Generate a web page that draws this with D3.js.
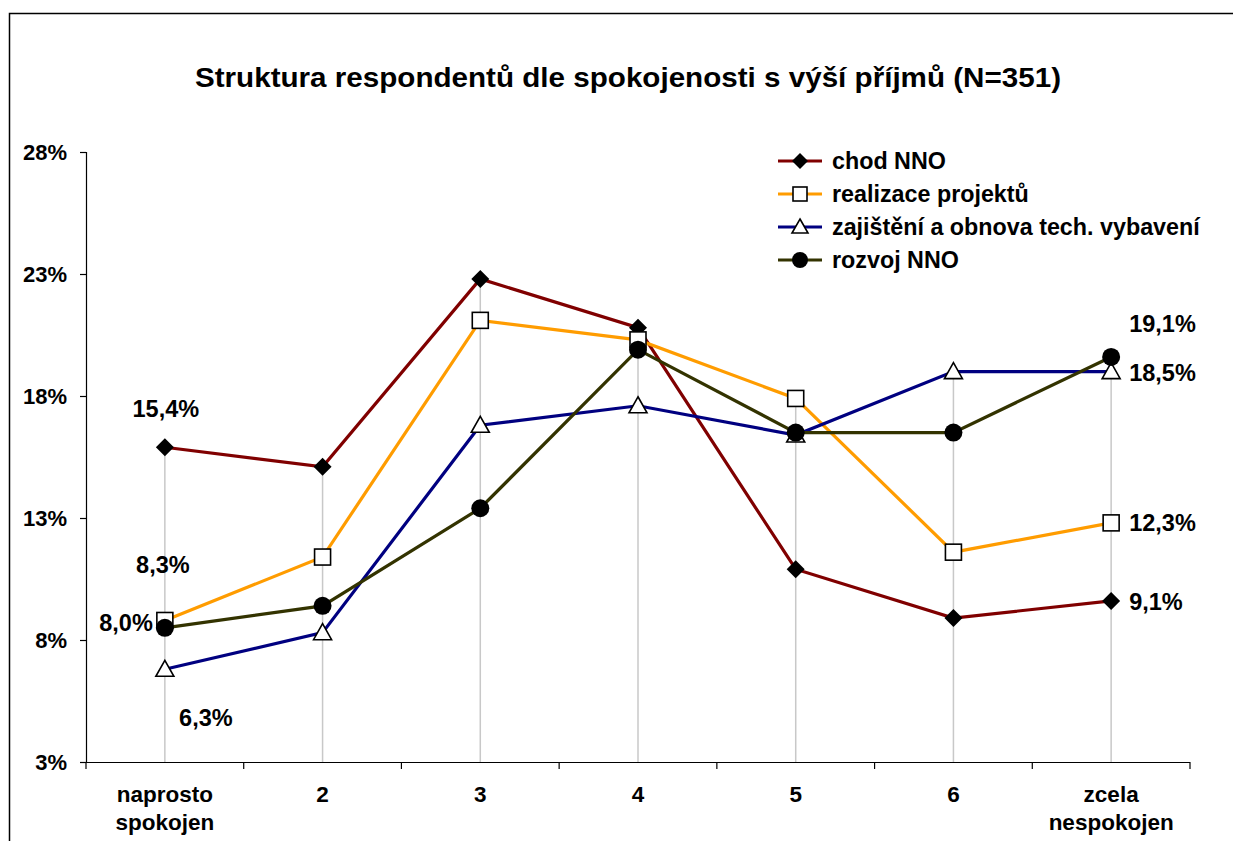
<!DOCTYPE html>
<html>
<head>
<meta charset="utf-8">
<script src="https://cdn.jsdelivr.net/npm/d3@7"></script>
<style>
  body { margin: 0; background: #fff; }
  svg text { font-family: "Liberation Sans", Arial, sans-serif; font-weight: bold; }
</style>
</head>
<body>
<script>
// categories on the x axis (two-line labels split by \n)
const categories = ['naprosto\nspokojen', '2', '3', '4', '5', '6', 'zcela\nnespokojen'];

// values, in %
const chodNNO = [15.4, 14.6, 22.3, 20.3, 10.4, 8.4, 9.1];
const realizaceProjektu = [8.3, 10.9, 20.6, 19.8, 17.4, 11.1, 12.3];
const zajisteniVybaveni = [6.3, 7.8, 16.3, 17.1, 15.9, 18.5, 18.5];
const rozvojNNO = [8.0, 8.9, 12.9, 19.4, 16.0, 16.0, 19.1];

const seriesNames = ['chod NNO', 'realizace projektů', 'zajištění a obnova tech. vybavení', 'rozvoj NNO'];

// axis runs 2,5 % .. 27,5 %, labels rounded like the original
const yTicks = [2.5, 7.5, 12.5, 17.5, 22.5, 27.5];

const series = [
  { name: seriesNames[0], values: chodNNO, color: '#800000', marker: 'diamond',
    first: { dx: 1, dy: -38, anchor: 'middle' }, last: { dx: 18, dy: 1, anchor: 'start' } },
  { name: seriesNames[1], values: realizaceProjektu, color: '#ff9c00', marker: 'square',
    first: { dx: -2, dy: -56, anchor: 'middle' }, last: { dx: 18, dy: 0, anchor: 'start' } },
  { name: seriesNames[2], values: zajisteniVybaveni, color: '#000080', marker: 'triangle',
    first: { dx: 41, dy: 48, anchor: 'middle' }, last: { dx: 18, dy: 1, anchor: 'start' } },
  { name: seriesNames[3], values: rozvojNNO, color: '#333300', marker: 'circle',
    first: { dx: -12, dy: -5, anchor: 'end' }, last: { dx: 18, dy: -33, anchor: 'start' } },
];

const width = 1233, height = 841;
const svg = d3.select('body').append('svg')
  .attr('width', width)
  .attr('height', height);

// outer frame (right and bottom edges fall outside the picture)
svg.append('rect')
  .attr('x', 9.5).attr('y', 13.5)
  .attr('width', width + 20).attr('height', height + 20)
  .attr('fill', 'none').attr('stroke', '#000').attr('stroke-width', 1.5);

svg.append('text')
  .attr('x', 628).attr('y', 87)
  .attr('text-anchor', 'middle')
  .attr('font-size', 27.5)
  .attr('textLength', 866)
  .attr('lengthAdjust', 'spacingAndGlyphs')
  .text('Struktura respondentů dle spokojenosti s výší příjmů (N=351)');

const plot = { left: 86, right: 1190, top: 152, bottom: 762 };

const x = d3.scaleBand()
  .domain(categories)
  .range([plot.left, plot.right])
  .padding(0);
const cx = (c) => x(c) + x.bandwidth() / 2;

const y = d3.scaleLinear()
  .domain([2.5, 27.5])
  .range([plot.bottom, plot.top]);

const fmt = (v) => v.toFixed(1).replace('.', ',') + '%';

// drop lines from the highest point down to the axis
svg.append('g').selectAll('line')
  .data(categories)
  .join('line')
  .attr('x1', (c) => cx(c)).attr('x2', (c) => cx(c))
  .attr('y1', (c, i) => y(d3.max(series, (s) => s.values[i])))
  .attr('y2', plot.bottom)
  .attr('stroke', '#c8c8c8')
  .attr('stroke-width', 1.5);

// y axis
const yAxis = svg.append('g')
  .attr('transform', `translate(${plot.left},0)`)
  .call(d3.axisLeft(y).tickValues(yTicks).tickSize(6).tickPadding(13)
    .tickFormat((v) => Math.round(v) + '%'));
yAxis.select('.domain').attr('stroke', '#000').attr('stroke-width', 1.2);
yAxis.selectAll('.tick line').attr('stroke', '#000').attr('stroke-width', 1.2);
yAxis.selectAll('.tick text')
  .attr('font-size', 22).attr('fill', '#000')
  .attr('font-family', '"Liberation Sans", Arial, sans-serif')
  .attr('font-weight', 'bold');

// x axis with ticks between categories
const xAxis = svg.append('g');
xAxis.append('line')
  .attr('x1', plot.left).attr('x2', plot.right)
  .attr('y1', plot.bottom + 0.5).attr('y2', plot.bottom + 0.5)
  .attr('stroke', '#000').attr('stroke-width', 1.2);
const edges = categories.map((c) => x(c)).concat([plot.right]);
xAxis.selectAll('line.tick')
  .data(edges)
  .join('line')
  .attr('class', 'tick')
  .attr('x1', (d) => d).attr('x2', (d) => d)
  .attr('y1', plot.bottom).attr('y2', plot.bottom + 7)
  .attr('stroke', '#000').attr('stroke-width', 1.2);
xAxis.selectAll('text')
  .data(categories)
  .join('text')
  .attr('x', (c) => cx(c))
  .attr('y', 802)
  .attr('text-anchor', 'middle')
  .attr('font-size', 22.5)
  .each(function (c) {
    c.split('\n').forEach((part, i) => {
      d3.select(this).append('tspan')
        .attr('x', cx(c))
        .attr('dy', i === 0 ? 0 : 28)
        .text(part);
    });
  });

// marker shapes
function drawMarker(g, type, size) {
  const h = size / 2;
  if (type === 'diamond') {
    g.append('path').attr('d', `M0,${-h - 1}L${h + 1},0L0,${h + 1}L${-h - 1},0Z`)
      .attr('fill', '#000');
  } else if (type === 'square') {
    g.append('rect').attr('x', -h).attr('y', -h).attr('width', size).attr('height', size)
      .attr('fill', '#fff').attr('stroke', '#000').attr('stroke-width', 1.6);
  } else if (type === 'triangle') {
    g.append('path').attr('d', `M0,${-h - 1}L${h + 1},${h - 1}L${-h - 1},${h - 1}Z`)
      .attr('fill', '#fff').attr('stroke', '#000').attr('stroke-width', 1.6);
  } else {
    g.append('circle').attr('r', h + 1).attr('fill', '#000');
  }
}

const line = d3.line()
  .x((d, i) => cx(categories[i]))
  .y((d) => y(d));

series.forEach((s) => {
  svg.append('path')
    .datum(s.values)
    .attr('fill', 'none')
    .attr('stroke', s.color)
    .attr('stroke-width', 3.2)
    .attr('d', line);
});

series.forEach((s) => {
  s.values.forEach((v, i) => {
    const g = svg.append('g')
      .attr('transform', `translate(${cx(categories[i])},${y(v)})`);
    drawMarker(g, s.marker, 16);
  });
});

// data labels on the first and last point
series.forEach((s) => {
  const n = s.values.length;
  [[0, s.first], [n - 1, s.last]].forEach(([i, o]) => {
    svg.append('text')
      .attr('x', cx(categories[i]) + o.dx)
      .attr('y', y(s.values[i]) + o.dy)
      .attr('dy', '0.35em')
      .attr('text-anchor', o.anchor)
      .attr('font-size', 23.5)
      .text(fmt(s.values[i]));
  });
});

// legend
const legend = svg.append('g').attr('transform', 'translate(778,161)');
series.forEach((s, i) => {
  const row = legend.append('g').attr('transform', `translate(0,${i * 33})`);
  row.append('line')
    .attr('x1', 0).attr('x2', 44)
    .attr('stroke', s.color).attr('stroke-width', 3.2);
  drawMarker(row.append('g').attr('transform', 'translate(22,0)'), s.marker, 14);
  row.append('text')
    .attr('x', 54).attr('dy', '0.35em')
    .attr('font-size', 23.3)
    .text(s.name);
});
</script>
</body>
</html>
